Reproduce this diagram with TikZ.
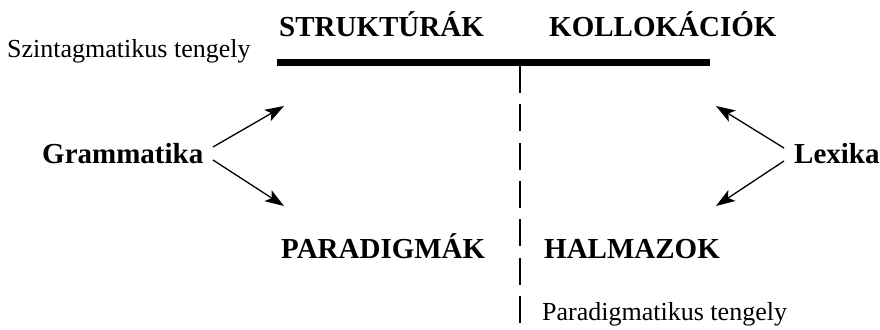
\documentclass[tikz,border=0pt]{standalone}
\usepackage{fontspec}
\setmainfont{Liberation Serif}
\usetikzlibrary{arrows.meta}
\begin{document}
\begin{tikzpicture}[x=1pt,y=-1pt,
  bigb/.style={font=\fontsize{29}{32}\selectfont\bfseries, inner sep=0pt, anchor=base west},
  small/.style={font=\fontsize{26}{30}\selectfont, inner sep=0pt, anchor=base west},
  arr/.style={line width=1.3pt, -{Stealth[length=19pt,width=13pt,inset=4.5pt]}},
  axis/.style={line width=7pt},
  daxis/.style={line width=2.6pt, dash pattern=on 27pt off 11.3pt}]
\useasboundingbox (0,0) rectangle (880,329);
% text
\node[bigb] (struk) at (279,37) {STRUKTÚRÁK};
\node[bigb] (koll) at (549,37) {KOLLOKÁCIÓK};
\node[small] (szint) at (7,58) {Szintagmatikus tengely};
\node[bigb] (gram) at (42,163) {Grammatika};
\node[bigb] (lex) at (794,163) {Lexika};
\node[bigb] (para) at (281,258) {PARADIGMÁK};
\node[bigb] (halm) at (544,258) {HALMAZOK};
\node[small] (parat) at (542,320) {Paradigmatikus tengely};
% axes
\coordinate (hl) at (277,62.5);
\coordinate (hr) at (710,62.5);
\coordinate (vt) at (520,66);
\coordinate (vb) at (520,323);
\draw[axis] (hl) -- (hr);
\draw[daxis] (vt) -- (vb);
% arrows
\coordinate (gt1) at (213,147);
\coordinate (gt2) at (213,160);
\coordinate (gh1) at (284,106);
\coordinate (gh2) at (284,206);
\coordinate (lt1) at (784,148);
\coordinate (lt2) at (784,161);
\coordinate (lh1) at (716,106);
\coordinate (lh2) at (716,206);
\draw[arr] (gt1) -- (gh1);
\draw[arr] (gt2) -- (gh2);
\draw[arr] (lt1) -- (lh1);
\draw[arr] (lt2) -- (lh2);
\end{tikzpicture}
\end{document}
